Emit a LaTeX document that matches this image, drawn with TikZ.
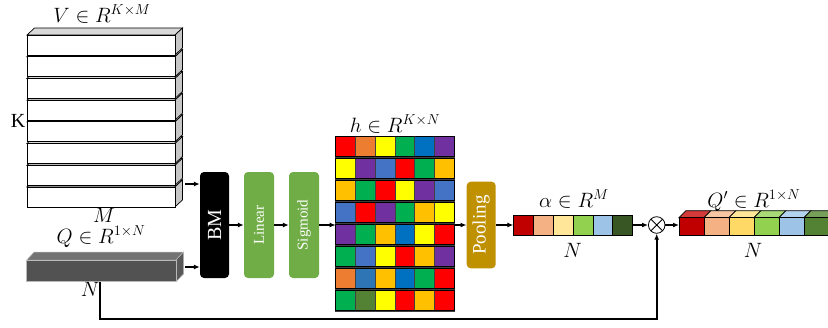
\documentclass[tikz,border=0pt]{standalone}
\usepackage[no-math]{fontspec}
\setmainfont{Liberation Serif}
\usetikzlibrary{arrows.meta}
\definecolor{cR}{HTML}{FF0000}
\definecolor{cO}{HTML}{ED7D31}
\definecolor{cY}{HTML}{FFFF00}
\definecolor{cG}{HTML}{00B050}
\definecolor{cB}{HTML}{0070C0}
\definecolor{cP}{HTML}{7030A0}
\definecolor{cL}{HTML}{4472C4}
\definecolor{cA}{HTML}{FFC000}
\definecolor{cM}{HTML}{2E75B6}
\definecolor{cD}{HTML}{548235}
\definecolor{lingreen}{HTML}{70AD47}
\definecolor{poolgold}{HTML}{BF9000}
\definecolor{a1}{HTML}{C00000}
\definecolor{a2}{HTML}{F4B183}
\definecolor{a3}{HTML}{FFE699}
\definecolor{a4}{HTML}{92D050}
\definecolor{a5}{HTML}{9DC3E6}
\definecolor{a6}{HTML}{375623}
\definecolor{q1}{HTML}{C00000}\definecolor{t1}{HTML}{D43A3A}
\definecolor{q2}{HTML}{F4B183}\definecolor{t2}{HTML}{F7C6A3}
\definecolor{q3}{HTML}{FFD966}\definecolor{t3}{HTML}{FFE699}
\definecolor{q4}{HTML}{92D050}\definecolor{t4}{HTML}{A9DA77}
\definecolor{q5}{HTML}{9DC3E6}\definecolor{t5}{HTML}{B4D3EE}
\definecolor{q6}{HTML}{548235}\definecolor{t6}{HTML}{76A05A}
\begin{document}
\begin{tikzpicture}[x=1pt,y=-1pt,
  arr/.style={-{Latex[length=6pt,width=5pt]}, line width=1.4pt},
  blk/.style={rounded corners=4pt, inner sep=0pt, text=white},
  lbl/.style={anchor=base, inner sep=0pt, font=\fontsize{20}{24}\selectfont},
  slabline/.style={line width=0.7pt, black}]
\useasboundingbox (0,0) rectangle (828,327);
\clip (0,0) rectangle (828,327);

% V stack of slabs (bottom first)
\foreach \i in {7,6,...,0}{
  \pgfmathsetmacro\t{35+21.7*\i}
  \pgfmathsetmacro\b{\t+20}
  \filldraw[slabline, fill=gray!30] (27,\t) -- (34.5,{\t-7}) -- (182.5,{\t-7}) -- (175,\t) -- cycle;
  \filldraw[slabline, fill=gray!45] (175,\t) -- (182.5,{\t-7}) -- (182.5,{\b-7}) -- (175,\b) -- cycle;
  \filldraw[slabline, fill=white] (27,\t) rectangle (175,\b);
}
\node[lbl] (Vlab) at (102,22) {$V \in R^{K\times M}$};
\node[lbl, font=\fontsize{20}{24}\selectfont] (Klab) at (18,127) {K};
\node[lbl] (Mlab) at (104,222) {$M$};

% Q box
\filldraw[draw=gray!55, line width=0.5pt, fill=black!55] (26.7,260) -- (34.2,252) -- (183.5,252) -- (176,260) -- cycle;
\filldraw[draw=gray!55, line width=0.5pt, fill=black!65] (176,260) -- (183.5,252) -- (183.5,274) -- (176,281.7) -- cycle;
\filldraw[draw=gray!55, line width=0.5pt, fill=black!68] (26.7,260) rectangle (176,281.7);
\node[lbl] (Qlab) at (101,243) {$Q \in R^{1\times N}$};
\node[lbl] (QN) at (90,296) {$N$};

% blocks
\node[blk, fill=black, minimum width=29pt, minimum height=106pt] (BM) at (214.5,225)
  {\rotatebox{90}{\fontsize{20}{24}\selectfont BM}};
\node[blk, fill=lingreen, minimum width=30pt, minimum height=106pt] (Lin) at (259,225)
  {\rotatebox{90}{\fontsize{15}{18}\selectfont Linear}};
\node[blk, fill=lingreen, minimum width=30pt, minimum height=106pt] (Sig) at (304,225)
  {\rotatebox{90}{\fontsize{15}{18}\selectfont Sigmoid}};
\node[blk, fill=poolgold, minimum width=29pt, minimum height=86.6pt] (Pool) at (481.2,225)
  {\rotatebox{90}{\fontsize{19}{22}\selectfont Pooling}};

% h grid
\foreach \row [count=\r from 0] in {
  {cR,cO,cY,cG,cB,cP},
  {cY,cP,cL,cR,cG,cA},
  {cA,cG,cR,cY,cP,cL},
  {cL,cR,cP,cG,cA,cY},
  {cP,cG,cA,cB,cY,cR},
  {cG,cL,cY,cR,cA,cP},
  {cO,cM,cA,cB,cG,cR},
  {cG,cD,cY,cR,cA,cR}}{
  \pgfmathsetmacro\ty{135.7+22*\r+0.8}
  \foreach \c [count=\k from 0] in \row {
    \filldraw[fill=\c, draw=black!75, line width=0.6pt] ({335.7+19.72*\k},\ty) rectangle ++(19.72,20.4);
  }
  \draw[line width=0.9pt] (335.7,\ty) rectangle (454,{\ty+20.4});
}
\node[lbl] (hlab) at (395,132) {$h \in R^{K\times N}$};

% alpha
\foreach \c [count=\k from 0] in {a1,a2,a3,a4,a5,a6}{
  \filldraw[fill=\c, draw=black, line width=0.8pt] ({513.3+19.9*\k},215) rectangle ++(19.9,20);
}
\node[lbl] (alab) at (574,207) {$\alpha \in R^{M}$};
\node[lbl] (aN) at (572.5,257) {$N$};

% multiply
\node[circle, draw, line width=0.8pt, minimum size=16.6pt, inner sep=0pt,
  path picture={\draw[line width=0.8pt] (path picture bounding box.north west) -- (path picture bounding box.south east)
    (path picture bounding box.north east) -- (path picture bounding box.south west);}] (mul) at (656.7,225) {};

% Q' bar
\foreach \k in {0,...,5}{
  \pgfmathtruncatemacro\n{\k+1}
  \filldraw[fill=t\n, draw=black, line width=0.7pt] ({679+25*\k},217.7) -- ({686+25*\k},210.7) -- ({711+25*\k},210.7) -- ({704+25*\k},217.7) -- cycle;
  \filldraw[fill=q\n, draw=black, line width=0.8pt] ({679+25*\k},217.7) rectangle ++(25,17.5);
}
\node[lbl] (Qplab) at (754,207) {$Q' \in R^{1\times N}$};
\node[lbl] (QpN) at (753,257) {$N$};

% connectors
\coordinate (Vout) at (185,184);
\coordinate (Qout) at (184.5,267);
\coordinate (hW) at (335.7,225);
\coordinate (hE) at (454,225);
\coordinate (aW) at (513.3,225);
\coordinate (aE) at (632.7,225);
\coordinate (QpW) at (679,225);
\coordinate (Qbot) at (100,281.7);
\coordinate (low) at (100,319);
\draw[arr] (Vout) -- (BM.west |- Vout);
\draw[arr] (Qout) -- (BM.west |- Qout);
\draw[arr] (BM.east) -- (Lin.west);
\draw[arr] (Lin.east) -- (Sig.west);
\draw[arr] (Sig.east) -- (hW);
\draw[arr] (hE) -- (Pool.west);
\draw[arr] (Pool.east) -- (aW);
\draw[arr] (aE) -- (mul.west);
\draw[arr] (mul.east) -- (QpW);
\draw[arr, line width=1.6pt] (Qbot) -- (low) -| (mul.south);
\end{tikzpicture}
\end{document}
